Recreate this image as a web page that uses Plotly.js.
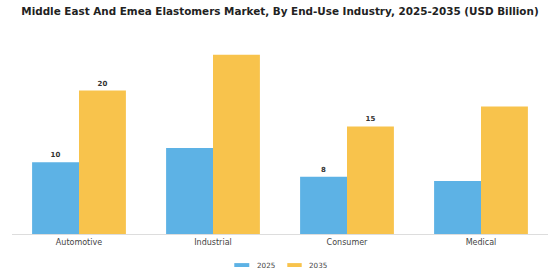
<!DOCTYPE html>
<html>
<head>
<meta charset="utf-8">
<script src="https://cdn.plot.ly/plotly-3.0.1.min.js"></script>
<style>html,body{margin:0;padding:0;background:#fff}#chart{width:560px;height:280px}</style>
</head>
<body>
<div id="chart"></div>
<script>
const categories = ["Automotive", "Industrial", "Consumer", "Medical"];
const values2025 = [10, 12, 8, 7.4];
const values2035 = [20, 25, 15, 17.8];
const labels2025 = ["10", "", "8", ""];
const labels2035 = ["20", "", "15", ""];
const seriesNames = ["2025", "2035"];
const seriesColors = ["#5DB2E5", "#F8C34C"];

const labelFont = {family: "DejaVu Sans", size: 7, color: "#333", weight: "bold"};

const traces = [
  {
    type: "bar", name: seriesNames[0], x: categories, y: values2025,
    text: labels2025, textposition: "outside", cliponaxis: false,
    textfont: labelFont, marker: {color: seriesColors[0]}, showlegend: false
  },
  {
    type: "bar", name: seriesNames[1], x: categories, y: values2035,
    text: labels2035, textposition: "outside", cliponaxis: false,
    textfont: labelFont, marker: {color: seriesColors[1]}, showlegend: false
  }
];

// custom legend (wide flat swatches like the reference)
const legendSwatchX = [[0.4147, 0.4427], [0.5136, 0.5405]];
const legendTextX = [0.4534, 0.5509];
const shapes = seriesNames.map((n, i) => ({
  type: "rect", xref: "paper", yref: "paper",
  x0: legendSwatchX[i][0], x1: legendSwatchX[i][1], y0: -0.170, y1: -0.150,
  fillcolor: seriesColors[i], line: {width: 0}
}));
const annotations = seriesNames.map((n, i) => ({
  text: n, xref: "paper", yref: "paper", x: legendTextX[i], y: -0.161,
  xanchor: "left", yanchor: "middle", showarrow: false,
  font: {family: "DejaVu Sans", size: 7.2, color: "#444"}
}));

const layout = {
  width: 560, height: 280,
  margin: {l: 12, r: 12, t: 40, b: 46, autoexpand: false},
  paper_bgcolor: "#fff", plot_bgcolor: "#fff",
  font: {family: "DejaVu Sans", color: "#333"},
  title: {text: "<b>Middle East And Emea Elastomers Market, By End-Use Industry, 2025-2035 (USD Billion)</b>",
          x: 0.5, xanchor: "center", y: 0.96, yanchor: "middle",
          font: {family: "DejaVu Sans", size: 10.4, color: "#222"}},
  barmode: "group", bargap: 0.3, bargroupgap: 0,
  showlegend: false,
  shapes: shapes,
  annotations: annotations,
  xaxis: {showgrid: false, zeroline: false, showline: true, linecolor: "#ddd", linewidth: 1,
          ticks: "", automargin: false, tickfont: {family: "DejaVu Sans", size: 8, color: "#444"}},
  yaxis: {range: [0, 27.06], visible: false, showgrid: false, zeroline: false}
};

Plotly.newPlot("chart", traces, layout, {displayModeBar: false, staticPlot: true});
</script>
</body>
</html>
